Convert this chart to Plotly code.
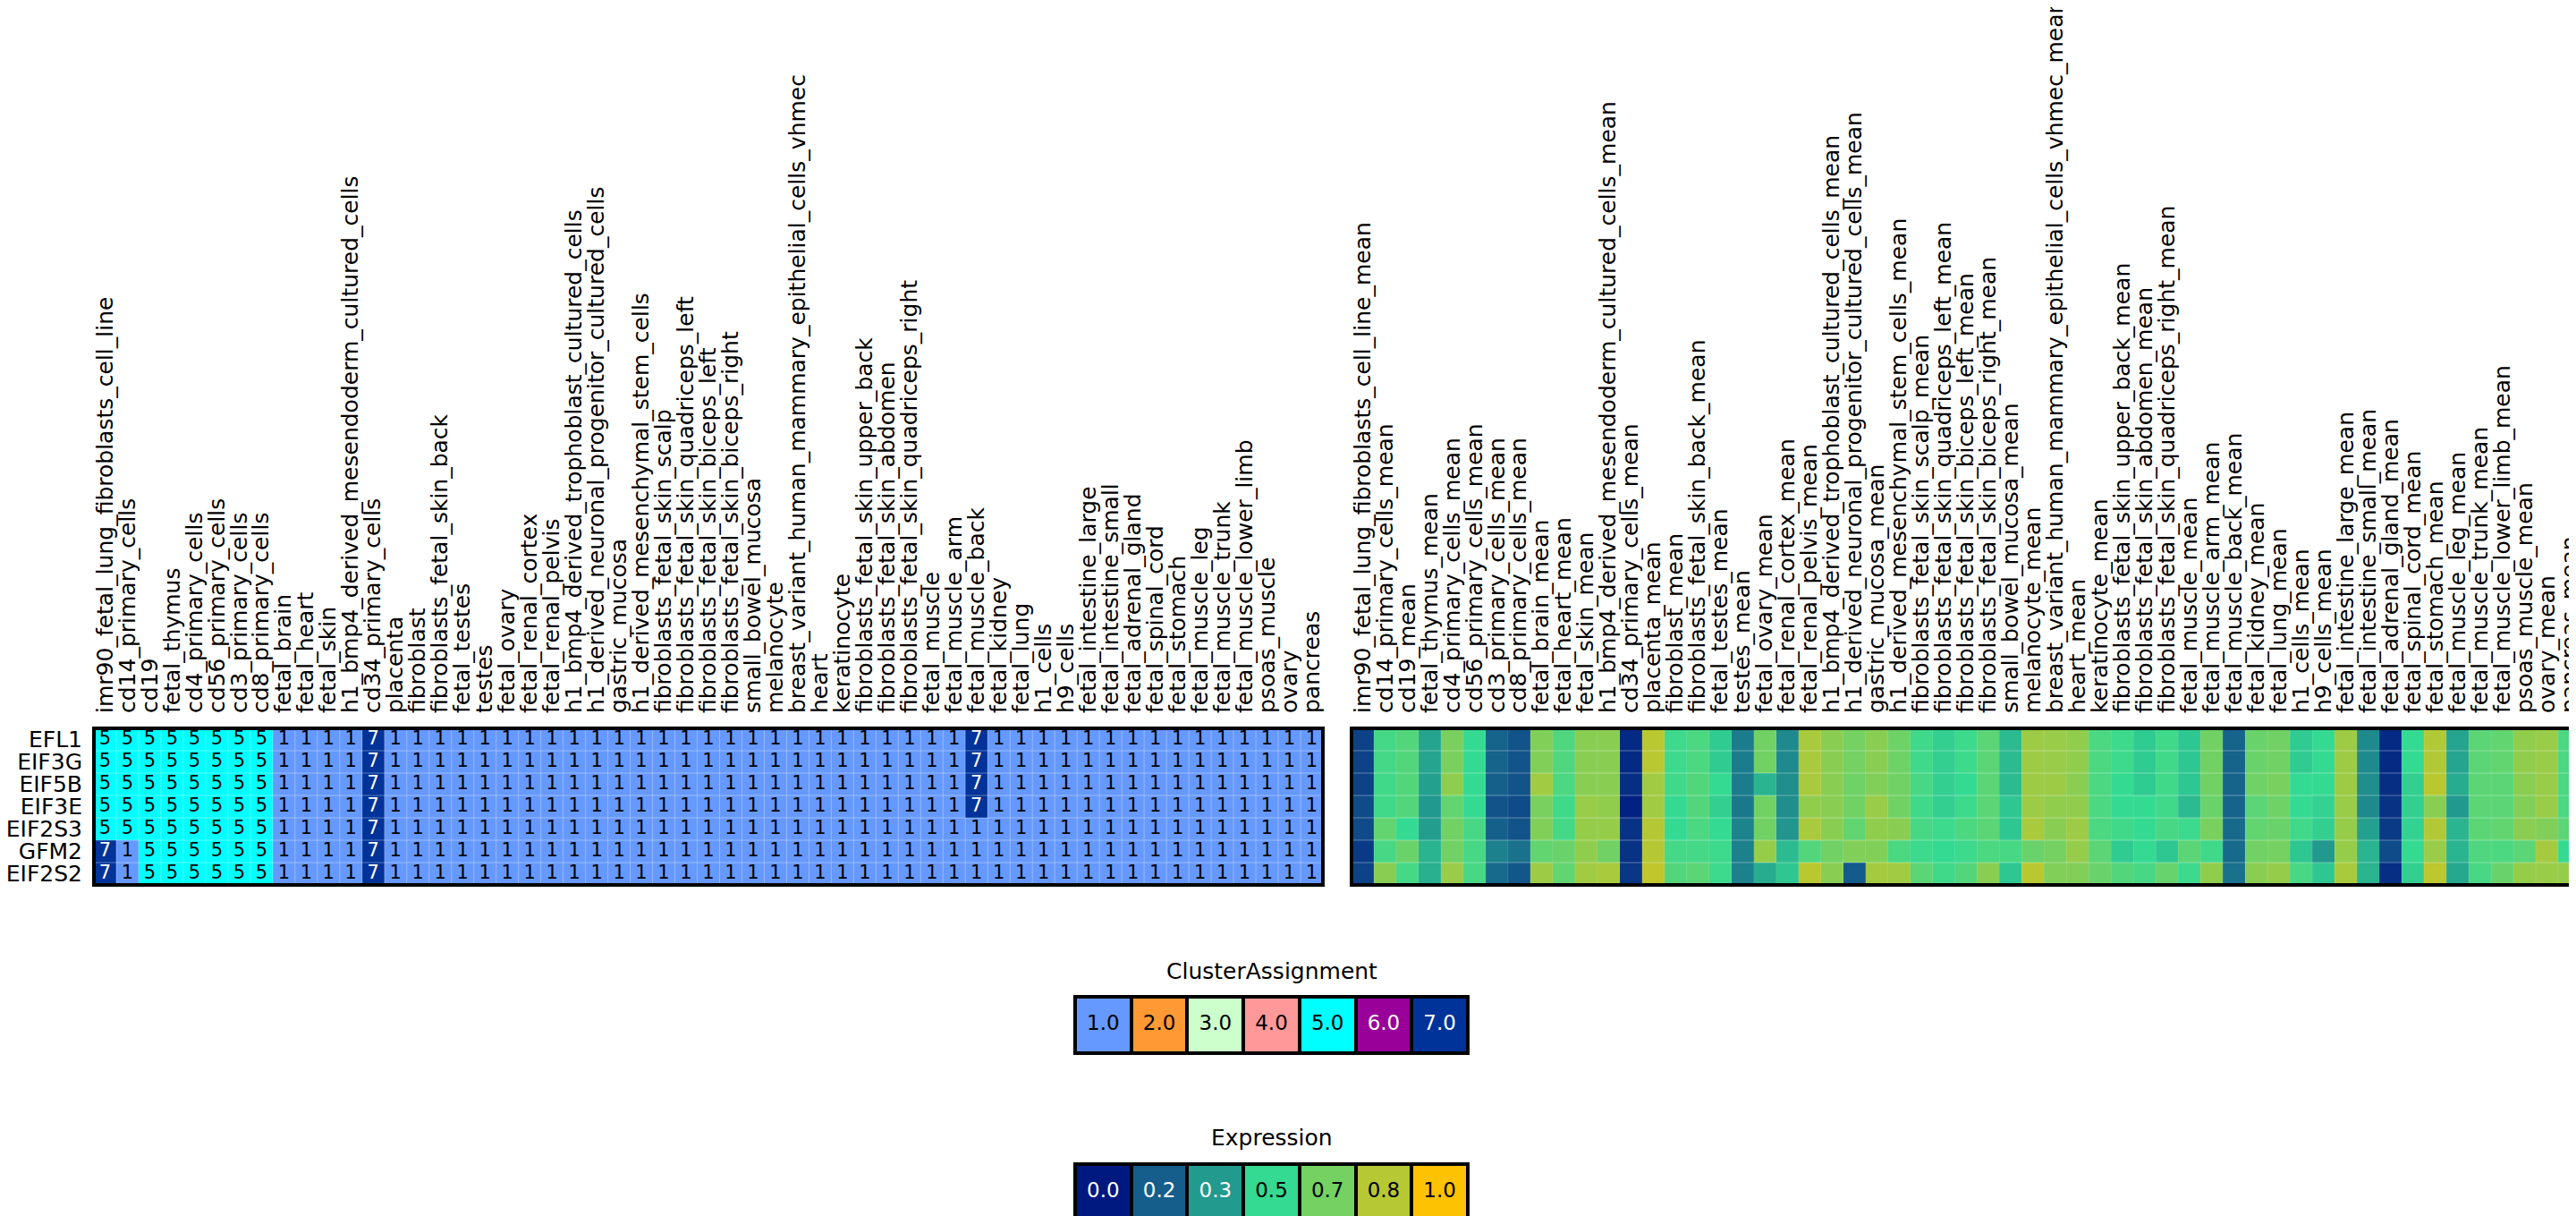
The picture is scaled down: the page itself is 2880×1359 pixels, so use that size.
import plotly.graph_objects as go

W, H = 2880, 1359
FONT = "DejaVu Sans"

genes = ["EFL1", "EIF3G", "EIF5B", "EIF3E", "EIF2S3", "GFM2", "EIF2S2"]

samples = [
    "imr90_fetal_lung_fibroblasts_cell_line", "cd14_primary_cells", "cd19", "fetal_thymus",
    "cd4_primary_cells", "cd56_primary_cells", "cd3_primary_cells", "cd8_primary_cells",
    "fetal_brain", "fetal_heart", "fetal_skin", "h1_bmp4_derived_mesendoderm_cultured_cells",
    "cd34_primary_cells", "placenta", "fibroblast", "fibroblasts_fetal_skin_back",
    "fetal_testes", "testes", "fetal_ovary", "fetal_renal_cortex", "fetal_renal_pelvis",
    "h1_bmp4_derived_trophoblast_cultured_cells", "h1_derived_neuronal_progenitor_cultured_cells",
    "gastric_mucosa", "h1_derived_mesenchymal_stem_cells", "fibroblasts_fetal_skin_scalp",
    "fibroblasts_fetal_skin_quadriceps_left", "fibroblasts_fetal_skin_biceps_left",
    "fibroblasts_fetal_skin_biceps_right", "small_bowel_mucosa", "melanocyte",
    "breast_variant_human_mammary_epithelial_cells_vhmec", "heart", "keratinocyte",
    "fibroblasts_fetal_skin_upper_back", "fibroblasts_fetal_skin_abdomen",
    "fibroblasts_fetal_skin_quadriceps_right", "fetal_muscle", "fetal_muscle_arm",
    "fetal_muscle_back", "fetal_kidney", "fetal_lung", "h1_cells", "h9_cells",
    "fetal_intestine_large", "fetal_intestine_small", "fetal_adrenal_gland",
    "fetal_spinal_cord", "fetal_stomach", "fetal_muscle_leg", "fetal_muscle_trunk",
    "fetal_muscle_lower_limb", "psoas_muscle", "ovary", "pancreas",
]
samples_mean = [s + "_mean" for s in samples]

cluster_EFL1 = [5,5,5,5,5,5,5,5,1,1,1,1,7,1,1,1,1,1,1,1,1,1,1,1,1,1,1,1,1,1,1,1,1,1,1,1,1,1,1,7,1,1,1,1,1,1,1,1,1,1,1,1,1,1,1]
cluster_EIF3G = [5,5,5,5,5,5,5,5,1,1,1,1,7,1,1,1,1,1,1,1,1,1,1,1,1,1,1,1,1,1,1,1,1,1,1,1,1,1,1,7,1,1,1,1,1,1,1,1,1,1,1,1,1,1,1]
cluster_EIF5B = [5,5,5,5,5,5,5,5,1,1,1,1,7,1,1,1,1,1,1,1,1,1,1,1,1,1,1,1,1,1,1,1,1,1,1,1,1,1,1,7,1,1,1,1,1,1,1,1,1,1,1,1,1,1,1]
cluster_EIF3E = [5,5,5,5,5,5,5,5,1,1,1,1,7,1,1,1,1,1,1,1,1,1,1,1,1,1,1,1,1,1,1,1,1,1,1,1,1,1,1,7,1,1,1,1,1,1,1,1,1,1,1,1,1,1,1]
cluster_EIF2S3 = [5,5,5,5,5,5,5,5,1,1,1,1,7,1,1,1,1,1,1,1,1,1,1,1,1,1,1,1,1,1,1,1,1,1,1,1,1,1,1,1,1,1,1,1,1,1,1,1,1,1,1,1,1,1,1]
cluster_GFM2 = [7,1,5,5,5,5,5,5,1,1,1,1,7,1,1,1,1,1,1,1,1,1,1,1,1,1,1,1,1,1,1,1,1,1,1,1,1,1,1,1,1,1,1,1,1,1,1,1,1,1,1,1,1,1,1]
cluster_EIF2S2 = [7,1,5,5,5,5,5,5,1,1,1,1,7,1,1,1,1,1,1,1,1,1,1,1,1,1,1,1,1,1,1,1,1,1,1,1,1,1,1,1,1,1,1,1,1,1,1,1,1,1,1,1,1,1,1]
clusters = [cluster_EFL1, cluster_EIF3G, cluster_EIF5B, cluster_EIF3E, cluster_EIF2S3, cluster_GFM2, cluster_EIF2S2]

expr_EFL1 = [0.10,0.54,0.58,0.36,0.68,0.50,0.18,0.14,0.70,0.57,0.72,0.72,0.04,0.84,0.52,0.56,0.46,0.25,0.66,0.29,0.80,0.72,0.67,0.72,0.65,0.53,0.47,0.52,0.60,0.42,
             0.77,0.76,0.74,0.56,0.52,0.46,0.53,0.45,0.66,0.18,0.64,0.66,0.46,0.50,0.77,0.29,0.04,0.50,0.82,0.36,0.60,0.62,0.74,0.76,0.56]
expr_EIF3G = [0.10,0.54,0.58,0.36,0.68,0.50,0.18,0.14,0.70,0.57,0.72,0.72,0.04,0.84,0.52,0.56,0.46,0.25,0.66,0.29,0.80,0.72,0.67,0.72,0.65,0.53,0.47,0.52,0.60,0.42,
              0.77,0.76,0.74,0.56,0.52,0.46,0.53,0.45,0.66,0.18,0.64,0.66,0.46,0.50,0.77,0.29,0.04,0.50,0.82,0.36,0.60,0.62,0.74,0.76,0.56]
expr_EIF5B = [0.10,0.53,0.58,0.35,0.73,0.50,0.17,0.14,0.78,0.56,0.72,0.72,0.05,0.78,0.53,0.58,0.50,0.25,0.40,0.30,0.80,0.72,0.65,0.70,0.66,0.55,0.47,0.50,0.60,0.42,
              0.77,0.77,0.72,0.56,0.50,0.46,0.53,0.45,0.66,0.18,0.65,0.68,0.50,0.50,0.77,0.30,0.05,0.47,0.84,0.38,0.60,0.60,0.72,0.76,0.56]
expr_EIF3E = [0.12,0.53,0.58,0.33,0.62,0.50,0.14,0.12,0.68,0.53,0.76,0.74,0.02,0.78,0.50,0.58,0.47,0.24,0.66,0.30,0.74,0.72,0.66,0.76,0.66,0.53,0.47,0.52,0.60,0.45,
              0.77,0.74,0.74,0.56,0.50,0.50,0.53,0.42,0.64,0.18,0.60,0.65,0.50,0.48,0.76,0.29,0.06,0.47,0.72,0.33,0.60,0.60,0.70,0.76,0.56]
expr_EIF2S3 = [0.12,0.62,0.50,0.34,0.66,0.55,0.17,0.14,0.70,0.54,0.75,0.75,0.06,0.83,0.50,0.56,0.50,0.27,0.66,0.32,0.80,0.72,0.62,0.74,0.72,0.55,0.52,0.56,0.60,0.45,
               0.80,0.72,0.77,0.56,0.53,0.50,0.55,0.52,0.68,0.20,0.62,0.64,0.53,0.47,0.75,0.35,0.08,0.48,0.82,0.40,0.60,0.62,0.72,0.70,0.60]
expr_GFM2 = [0.08,0.55,0.64,0.40,0.66,0.55,0.26,0.22,0.62,0.64,0.74,0.66,0.06,0.83,0.54,0.54,0.52,0.26,0.75,0.42,0.58,0.66,0.70,0.70,0.56,0.52,0.50,0.52,0.56,0.55,
             0.64,0.67,0.75,0.60,0.46,0.50,0.45,0.60,0.53,0.20,0.66,0.67,0.45,0.33,0.75,0.40,0.12,0.50,0.76,0.40,0.57,0.56,0.60,0.79,0.50]
expr_EIF2S2 = [0.10,0.72,0.54,0.39,0.76,0.55,0.20,0.15,0.77,0.62,0.78,0.80,0.07,0.86,0.58,0.60,0.52,0.26,0.38,0.45,0.84,0.72,0.16,0.79,0.78,0.60,0.53,0.58,0.72,0.45,
               0.84,0.70,0.70,0.64,0.58,0.55,0.63,0.52,0.74,0.22,0.72,0.75,0.55,0.45,0.80,0.40,0.05,0.47,0.85,0.37,0.55,0.64,0.75,0.76,0.75]
expression = [expr_EFL1, expr_EIF3G, expr_EIF5B, expr_EIF3E, expr_EIF2S3, expr_GFM2, expr_EIF2S2]

cluster_levels = [1, 2, 3, 4, 5, 6, 7]
cluster_labels = ["1.0", "2.0", "3.0", "4.0", "5.0", "6.0", "7.0"]
cluster_colors = ["#6699ff", "#ff9933", "#ccffcc", "#ff9999", "#00ffff", "#990099", "#003399"]

expr_levels = [0.0, 0.167, 0.333, 0.5, 0.667, 0.833, 1.0]
expr_labels = ["0.0", "0.2", "0.3", "0.5", "0.7", "0.8", "1.0"]
expr_colors = ["#001980", "#155e8b", "#229a8e", "#35da92", "#74d162", "#b6c833", "#fdc201"]

# ---------- colorscales ----------
cl_scale = []
n = len(cluster_colors)
for i, c in enumerate(cluster_colors):
    cl_scale.append([i / n, c])
    cl_scale.append([(i + 1) / n, c])
ex_scale = [[v, c] for v, c in zip(expr_levels, expr_colors)]

def light_on_dark(hexcol):
    r, g, b = int(hexcol[1:3], 16), int(hexcol[3:5], 16), int(hexcol[5:7], 16)
    return "white" if (0.299 * r + 0.587 * g + 0.114 * b) < 140 else "black"

# ---------- layout boxes (pixels) ----------
HM_TOP, HM_BOT = 806, 981
L_X0, L_X1 = 97, 1471
R_X0, R_X1 = 1503, 2877
LEG_X0, LEG_X1 = 1194, 1633
CA_Y0, CA_Y1 = 1106, 1169
EX_Y0, EX_Y1 = 1293, 1356

def xd(a, b):
    return [a / W, b / W]

def yd(top, bot):
    return [1 - bot / H, 1 - top / H]

fig = go.Figure()

# cluster heatmap
fig.add_trace(go.Heatmap(z=clusters, x=samples, y=genes, colorscale=cl_scale,
                         zmin=0.5, zmax=7.5, showscale=False, xaxis="x", yaxis="y",
                         hoverinfo="skip"))
tx, ty, tt, tc = [], [], [], []
for gi, g in enumerate(genes):
    for si, s in enumerate(samples):
        v = clusters[gi][si]
        tx.append(s); ty.append(g); tt.append(str(v))
        tc.append(light_on_dark(cluster_colors[v - 1]))
fig.add_trace(go.Scatter(x=tx, y=ty, text=tt, mode="text", xaxis="x", yaxis="y",
                         textfont=dict(family=FONT, size=21, color=tc),
                         showlegend=False, hoverinfo="skip"))

# expression heatmap
fig.add_trace(go.Heatmap(z=expression, x=samples_mean, y=genes, colorscale=ex_scale,
                         zmin=0, zmax=1, showscale=False, xaxis="x2", yaxis="y2",
                         hoverinfo="skip"))

# legends as small heatmaps
fig.add_trace(go.Heatmap(z=[cluster_levels], x=cluster_labels, y=["c"], colorscale=cl_scale,
                         zmin=0.5, zmax=7.5, showscale=False, xaxis="x3", yaxis="y3",
                         xgap=4, hoverinfo="skip"))
fig.add_trace(go.Scatter(x=cluster_labels, y=["c"] * len(cluster_labels), text=cluster_labels,
                         mode="text", xaxis="x3", yaxis="y3",
                         textfont=dict(family=FONT, size=23,
                                       color=[light_on_dark(c) for c in cluster_colors]),
                         showlegend=False, hoverinfo="skip"))
fig.add_trace(go.Heatmap(z=[expr_levels], x=expr_labels, y=["e"], colorscale=ex_scale,
                         zmin=0, zmax=1, showscale=False, xaxis="x4", yaxis="y4",
                         xgap=4, hoverinfo="skip"))
fig.add_trace(go.Scatter(x=expr_labels, y=["e"] * len(expr_labels), text=expr_labels,
                         mode="text", xaxis="x4", yaxis="y4",
                         textfont=dict(family=FONT, size=23,
                                       color=[light_on_dark(c) for c in expr_colors]),
                         showlegend=False, hoverinfo="skip"))

tickfont = dict(family=FONT, size=25, color="black")
common_x = dict(type="category", side="top", tickangle=-90, ticks="", showgrid=False,
                zeroline=False, showline=False, tickfont=tickfont, ticklabelstandoff=16,
                tickmode="array")
hidden = dict(visible=False, showgrid=False, zeroline=False)

fig.update_layout(
    width=W, height=H, margin=dict(l=0, r=0, t=0, b=0, autoexpand=False),
    paper_bgcolor="white", plot_bgcolor="black", showlegend=False,
    font=dict(family=FONT, color="black"),
    xaxis=dict(common_x, domain=xd(L_X0, L_X1), anchor="y", range=[-0.5, len(samples) - 0.5],
               tickvals=samples, ticktext=samples),
    yaxis=dict(type="category", domain=yd(HM_TOP, HM_BOT), anchor="x", autorange="reversed",
               tickmode="array", tickvals=genes, ticktext=genes,
               ticks="", showgrid=False, zeroline=False, tickfont=tickfont, ticklabelstandoff=12),
    xaxis2=dict(common_x, domain=xd(R_X0, R_X1), anchor="y2", range=[-0.5, len(samples) - 0.5],
                tickvals=samples_mean, ticktext=samples_mean),
    yaxis2=dict(type="category", domain=yd(HM_TOP, HM_BOT), anchor="x2", autorange="reversed",
                showticklabels=False, ticks="", showgrid=False, zeroline=False),
    xaxis3=dict(hidden, domain=xd(LEG_X0, LEG_X1), anchor="y3", type="category"),
    yaxis3=dict(hidden, domain=yd(CA_Y0, CA_Y1), anchor="x3", type="category"),
    xaxis4=dict(hidden, domain=xd(LEG_X0, LEG_X1), anchor="y4", type="category"),
    yaxis4=dict(hidden, domain=yd(EX_Y0, EX_Y1), anchor="x4", type="category"),
)

shapes = []
grid_col = "rgba(255,255,255,0.35)"
for xa, ya, vcol in (("x", "y", "rgba(255,255,255,0.3)"), ("x2", "y2", "rgba(255,255,255,0.12)")):
    for i in range(1, len(samples)):
        shapes.append(dict(type="line", xref=xa, yref=ya + " domain", x0=i - 0.5, x1=i - 0.5,
                           y0=0, y1=1, line=dict(color=vcol, width=1), layer="above"))
    for j in range(1, len(genes)):
        shapes.append(dict(type="line", xref=xa + " domain", yref=ya, x0=0, x1=1,
                           y0=j - 0.5, y1=j - 0.5, line=dict(color=grid_col, width=1), layer="above"))
for xa, ya in (("x", "y"), ("x2", "y2"), ("x3", "y3"), ("x4", "y4")):
    shapes.append(dict(type="rect", xref=xa + " domain", yref=ya + " domain", x0=0, x1=1, y0=0, y1=1,
                       line=dict(color="black", width=4), fillcolor="rgba(0,0,0,0)", layer="above"))
fig.update_layout(shapes=shapes)

leg_cx = (LEG_X0 + LEG_X1) / 2 / W
fig.add_annotation(text="ClusterAssignment", x=leg_cx, y=1 - 1077 / H, xref="paper", yref="paper",
                   showarrow=False, font=dict(family=FONT, size=25, color="black"),
                   xanchor="center", yanchor="middle")
fig.add_annotation(text="Expression", x=leg_cx, y=1 - 1263 / H, xref="paper", yref="paper",
                   showarrow=False, font=dict(family=FONT, size=25, color="black"),
                   xanchor="center", yanchor="middle")

fig.write_html("out.html")
